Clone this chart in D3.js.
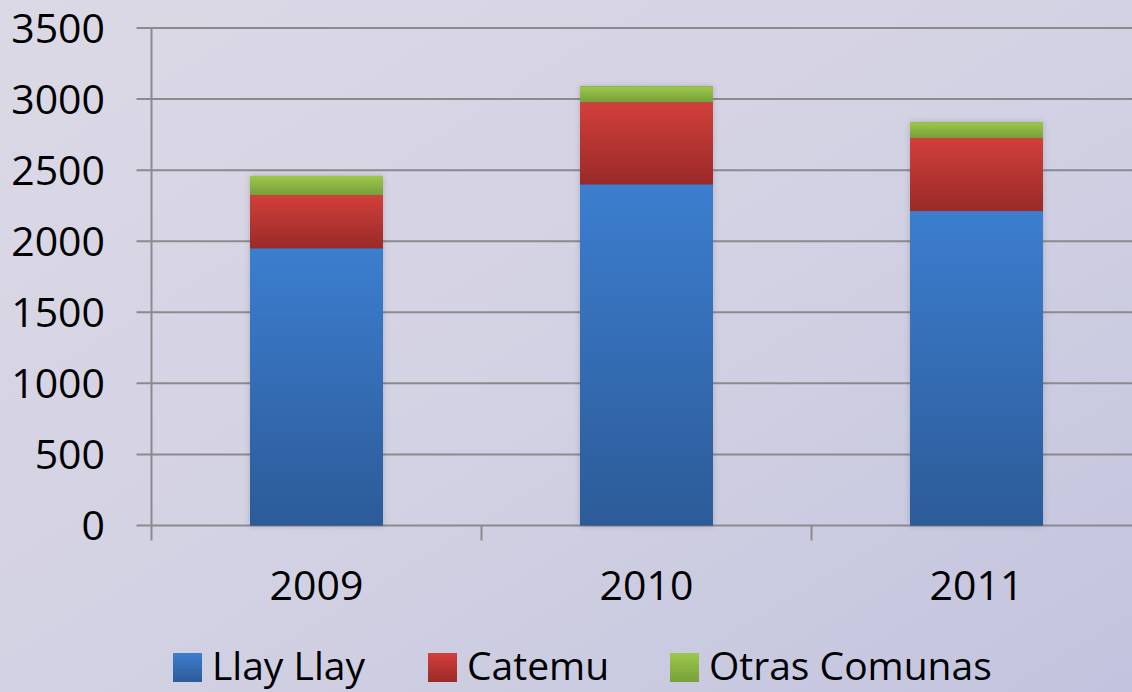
<!DOCTYPE html>
<html>
<head>
<meta charset="utf-8">
<script src="https://cdn.jsdelivr.net/npm/d3@7"></script>
<style>
  html, body { margin: 0; padding: 0; }
  body { width: 1132px; height: 692px; overflow: hidden; }
  svg { display: block; font-family: "Open Sans", sans-serif; }
</style>
</head>
<body>
<svg id="chart" width="1132" height="692"></svg>
<script>
// chart data
const years = ["2009", "2010", "2011"];
const seriesNames = ["Llay Llay", "Catemu", "Otras Comunas"];
const llayLlay = [1950, 2400, 2212];
const catemu = [375, 578, 514];
const otras = [134, 112, 112];
const yTicks = [0, 500, 1000, 1500, 2000, 2500, 3000, 3500];

const svg = d3.select("#chart"),
  width = +svg.attr("width"),
  height = +svg.attr("height");

const colors = {
  "Llay Llay": ["#3c7ecf", "#2c5b98"],
  "Catemu": ["#d23f3b", "#992a28"],
  "Otras Comunas": ["#9ec84b", "#76a03a"],
};

const defs = svg.append("defs");

// background
const bg = defs.append("linearGradient").attr("id", "bg")
  .attr("x1", 0).attr("y1", 0).attr("x2", 1).attr("y2", 1);
bg.append("stop").attr("offset", "0%").attr("stop-color", "#dcd9e6");
bg.append("stop").attr("offset", "55%").attr("stop-color", "#d2d1e3");
bg.append("stop").attr("offset", "100%").attr("stop-color", "#c2c3de");
svg.append("rect").attr("width", width).attr("height", height).attr("fill", "url(#bg)");

seriesNames.forEach((name, i) => {
  const g = defs.append("linearGradient").attr("id", "grad" + i)
    .attr("x1", 0).attr("y1", 0).attr("x2", 0).attr("y2", 1);
  g.append("stop").attr("offset", "0%").attr("stop-color", colors[name][0]);
  g.append("stop").attr("offset", "100%").attr("stop-color", colors[name][1]);
});

const shadow = defs.append("filter").attr("id", "shadow")
  .attr("x", "-10%").attr("y", "-10%").attr("width", "120%").attr("height", "120%");
shadow.append("feDropShadow").attr("dx", 0).attr("dy", 0).attr("stdDeviation", 3)
  .attr("flood-color", "#000").attr("flood-opacity", 0.18);

const plotLeft = 151.5, plotRight = 1141.5, plotTop = 28, plotBottom = 525.5;

const x = d3.scaleBand().domain(years).range([plotLeft, plotRight])
  .paddingInner(0.597).paddingOuter(0.2985);
const y = d3.scaleLinear().domain([0, 3500]).range([plotBottom, plotTop]);

// gridlines + y ticks
svg.append("g").selectAll("line").data(yTicks).enter().append("line")
  .attr("x1", plotLeft - 15).attr("x2", width)
  .attr("y1", (d) => y(d)).attr("y2", (d) => y(d))
  .attr("stroke", "#8a8a8f").attr("stroke-width", 2);

// vertical axis line
svg.append("line").attr("x1", plotLeft).attr("x2", plotLeft)
  .attr("y1", plotTop).attr("y2", plotBottom + 15)
  .attr("stroke", "#8a8a8f").attr("stroke-width", 2);

// category tick marks
const step = x.step();
svg.append("g").selectAll("line").data(years.slice(1)).enter().append("line")
  .attr("x1", (d, i) => plotLeft + step * (i + 1)).attr("x2", (d, i) => plotLeft + step * (i + 1))
  .attr("y1", plotBottom).attr("y2", plotBottom + 15)
  .attr("stroke", "#8a8a8f").attr("stroke-width", 2);

// y labels
svg.append("g").selectAll("text").data(yTicks).enter().append("text")
  .attr("x", 105).attr("y", (d) => y(d))
  .attr("dy", "0.36em").attr("text-anchor", "end")
  .attr("font-size", 41).attr("fill", "#000")
  .text((d) => d);

// stacked bars
const table = years.map((yr, i) => ({
  year: yr, "Llay Llay": llayLlay[i], "Catemu": catemu[i], "Otras Comunas": otras[i],
}));
const stacked = d3.stack().keys(seriesNames)(table);

const barsG = svg.append("g");
years.forEach((yr, j) => {
  const total = llayLlay[j] + catemu[j] + otras[j];
  barsG.append("rect")
    .attr("x", x(yr)).attr("width", x.bandwidth())
    .attr("y", y(total)).attr("height", y(0) - y(total))
    .attr("fill", "#555").attr("filter", "url(#shadow)");
});

stacked.forEach((layer, i) => {
  barsG.append("g").selectAll("rect").data(layer).enter().append("rect")
    .attr("x", (d) => x(d.data.year))
    .attr("width", x.bandwidth())
    .attr("y", (d) => y(d[1]))
    .attr("height", (d) => y(d[0]) - y(d[1]))
    .attr("fill", "url(#grad" + i + ")");
});

// x labels
svg.append("g").selectAll("text").data(years).enter().append("text")
  .attr("x", (d) => x(d) + x.bandwidth() / 2).attr("y", 600)
  .attr("text-anchor", "middle")
  .attr("font-size", 41).attr("fill", "#000")
  .text((d) => d);

// legend
const legendX = [173, 428, 670];
const legend = svg.append("g").selectAll("g").data(seriesNames).enter().append("g")
  .attr("transform", (d, i) => `translate(${legendX[i]},0)`);
legend.append("rect").attr("x", 0).attr("y", 653).attr("width", 29).attr("height", 29)
  .attr("fill", (d, i) => "url(#grad" + i + ")");
legend.append("text").attr("x", 39).attr("y", 680)
  .attr("font-size", 39).attr("fill", "#000")
  .text((d) => d);
</script>
</body>
</html>
